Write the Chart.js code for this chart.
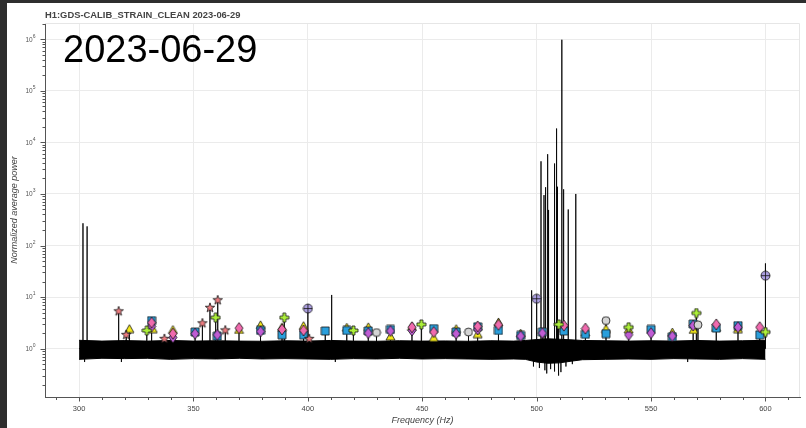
<!DOCTYPE html>
<html>
<head>
<meta charset="utf-8">
<script src="https://cdn.jsdelivr.net/npm/chart.js@4.4.0/dist/chart.umd.min.js"></script>
<style>
html, body { margin: 0; padding: 0; background: #2e2e2e; width: 806px; height: 428px; overflow: hidden; }
#wrap { position: absolute; left: 7px; top: 3px; width: 799px; height: 425px; background: #fff; }
</style>
</head>
<body>
<div id="wrap"><canvas id="chart" width="799" height="425"></canvas></div>
<script>
const FONT = '"Liberation Sans", Arial, Helvetica, sans-serif';

// axis ticks
const xTicks = [300, 350, 400, 450, 500, 550, 600];
const yDecades = [0, 1, 2, 3, 4, 5, 6];

// noise band envelope
const bandFreqs = [300, 310, 320, 330, 340, 350, 360, 370, 380, 390, 400, 410, 420, 430, 440, 450, 460, 470, 480, 490, 495, 500, 505, 510, 515, 520, 530, 540, 550, 560, 570, 580, 590, 600];
const bandUpper = [1.45, 1.4, 1.43, 1.4, 1.44, 1.4, 1.42, 1.4, 1.39, 1.42, 1.4, 1.44, 1.4, 1.39, 1.42, 1.4, 1.41, 1.39, 1.42, 1.4, 1.44, 1.5, 1.55, 1.52, 1.48, 1.44, 1.42, 1.4, 1.42, 1.4, 1.44, 1.4, 1.42, 1.45];
const bandLower = [0.62, 0.65, 0.64, 0.65, 0.62, 0.64, 0.63, 0.65, 0.63, 0.64, 0.63, 0.62, 0.64, 0.63, 0.65, 0.63, 0.64, 0.63, 0.62, 0.63, 0.62, 0.55, 0.52, 0.53, 0.57, 0.61, 0.62, 0.63, 0.62, 0.64, 0.63, 0.62, 0.64, 0.62];

// spectrum peaks
const peakFreqs = [301.7, 303.5, 317.3, 320.6, 322.0, 329.6, 331.7, 337.3, 341.0, 350.7, 353.9, 357.2, 359.7, 360.6, 363.9, 369.9, 379.3, 388.7, 389.7, 398.1, 400.0, 407.6, 410.4, 417.0, 419.9, 426.4, 430.0, 436.1, 445.5, 449.6, 455.0, 464.8, 470.2, 474.2, 483.3, 493.0, 497.8, 500.0, 501.9, 502.5, 503.2, 503.9, 504.8, 505.2, 507.7, 508.7, 509.1, 509.7, 511.0, 511.6, 511.9, 513.8, 517.1, 521.3, 530.3, 540.2, 550.0, 559.3, 568.4, 569.8, 570.5, 578.5, 588.0, 597.5, 600.0];
const peakVals = [270, 235, 5.3, 1.85, 2.45, 2.25, 3.5, 1.55, 2.35, 2.1, 3.1, 6.2, 4.0, 8.7, 2.26, 2.5, 2.9, 2.65, 4.0, 2.8, 6.0, 2.2, 11, 2.6, 2.25, 2.65, 2.05, 2.35, 2.7, 2.95, 2.45, 2.45, 2.1, 2.7, 3.3, 2.0, 13.5, 9.3, 4300, 2.1, 950, 1350, 5900, 490, 3900, 18600, 1380, 2.95, 980000, 1230, 2.8, 500, 1000, 2.45, 3.5, 2.6, 2.35, 2.1, 3.0, 4.9, 2.9, 2.95, 2.8, 2.6, 45];

// downward dips of the spectrum
const dipFreqs = [302.4, 318.5, 412.0, 498.6, 501.2, 503.6, 504.4, 506.1, 507.9, 509.4, 510.6, 512.8, 515.6, 566.0];
const dipVals = [0.55, 0.55, 0.55, 0.45, 0.42, 0.38, 0.33, 0.4, 0.36, 0.3, 0.35, 0.45, 0.5, 0.55];

// line markers, one pair of arrays per marker type
const starFreqs = [317.3, 320.6, 337.3, 353.9, 357.2, 360.6, 363.9, 400.6];
const starVals = [5.3, 1.85, 1.55, 3.1, 6.2, 8.7, 2.26, 1.55];

const triFreqs = [322.0, 332.2, 341.0, 369.9, 379.3, 388.7, 398.1, 417.0, 426.4, 436.1, 445.5, 455.0, 464.8, 474.2, 483.3, 493.0, 511.9, 521.3, 530.3, 540.2, 559.3, 568.6, 578.5, 588.0];
const triVals = [2.45, 2.45, 2.35, 2.35, 2.9, 2.65, 2.8, 2.6, 2.65, 1.75, 2.7, 1.65, 2.45, 1.95, 3.3, 2.0, 2.55, 2.1, 2.45, 2.4, 2.1, 2.35, 2.6, 2.45];

const sqFreqs = [331.7, 350.7, 360.4, 379.3, 388.7, 398.1, 407.6, 417.0, 426.4, 436.1, 455.0, 464.8, 474.2, 483.3, 493.0, 502.5, 511.9, 521.3, 530.3, 550.0, 559.3, 568.4, 578.5, 588.0, 597.5];
const sqVals = [3.5, 2.1, 1.75, 2.26, 1.85, 1.85, 2.2, 2.25, 2.2, 2.35, 2.45, 2.1, 2.65, 2.25, 1.8, 2.1, 2.2, 1.9, 1.95, 2.35, 1.7, 3.0, 2.5, 2.8, 1.85];

const pinkFreqs = [331.7, 341.0, 369.9, 388.7, 398.1, 445.5, 455.0, 474.2, 483.3, 511.9, 521.3, 578.5, 597.5];
const pinkVals = [3.2, 1.95, 2.5, 2.35, 2.25, 2.6, 2.1, 2.7, 2.9, 2.8, 2.45, 2.95, 2.6];

const purpFreqs = [331.7, 341.0, 350.7, 360.4, 379.3, 426.4, 436.1, 445.5, 464.8, 474.2, 493.0, 502.5, 540.2, 550.0, 559.3, 568.4, 588.0];
const purpVals = [2.7, 1.65, 1.95, 1.85, 2.15, 2.0, 2.2, 2.25, 1.95, 2.35, 1.75, 2.0, 1.85, 2.0, 1.75, 2.8, 2.6];

const plusFreqs = [329.6, 359.7, 389.7, 419.9, 449.6, 509.7, 540.2, 569.8, 600.0];
const plusVals = [2.25, 4.0, 4.0, 2.25, 2.95, 2.95, 2.6, 4.9, 2.1];

const circFreqs = [430.0, 470.2, 530.3, 570.5];
const circVals = [2.05, 2.1, 3.5, 2.9];

const cplusFreqs = [400.0, 500.0, 600.0];
const cplusVals = [6.0, 9.3, 26];

// draws a small marker glyph on its own canvas (used as pointStyle)
function makeMarker(shape, fill, w, h) {
    var c = document.createElement('canvas');
    c.width = w + 2;
    c.height = h + 2;
    var g = c.getContext('2d');
    var cx = c.width / 2, cy = c.height / 2;
    g.fillStyle = fill;
    g.strokeStyle = '#111';
    g.lineWidth = 0.8;
    g.beginPath();
    switch (shape) {
        case 'square':
            g.rect(cx - w / 2, cy - h / 2, w, h);
            break;
        case 'triangle':
            g.moveTo(cx, cy - h / 2);
            g.lineTo(cx + w / 2, cy + h / 2);
            g.lineTo(cx - w / 2, cy + h / 2);
            g.closePath();
            break;
        case 'diamond':
            g.moveTo(cx, cy - h / 2);
            g.lineTo(cx + w / 2, cy);
            g.lineTo(cx, cy + h / 2);
            g.lineTo(cx - w / 2, cy);
            g.closePath();
            break;
        case 'circle':
        case 'cplus':
            g.arc(cx, cy, w / 2, 0, Math.PI * 2);
            break;
        case 'star':
            for (var i = 0; i < 10; i++) {
                var r = i % 2 === 0 ? w / 2 : w / 5;
                var ang = -Math.PI / 2 + i * Math.PI / 5;
                var px = cx + r * Math.cos(ang), py = cy + r * Math.sin(ang);
                if (i === 0) g.moveTo(px, py); else g.lineTo(px, py);
            }
            g.closePath();
            break;
        case 'plus':
            var a = w / 2, t = w / 6;
            g.moveTo(cx - t, cy - a); g.lineTo(cx + t, cy - a); g.lineTo(cx + t, cy - t);
            g.lineTo(cx + a, cy - t); g.lineTo(cx + a, cy + t); g.lineTo(cx + t, cy + t);
            g.lineTo(cx + t, cy + a); g.lineTo(cx - t, cy + a); g.lineTo(cx - t, cy + t);
            g.lineTo(cx - a, cy + t); g.lineTo(cx - a, cy - t); g.lineTo(cx - t, cy - t);
            g.closePath();
            break;
    }
    g.fill();
    g.stroke();
    if (shape === 'cplus') {
        g.beginPath();
        g.moveTo(cx - w / 2, cy); g.lineTo(cx + w / 2, cy);
        g.moveTo(cx, cy - w / 2); g.lineTo(cx, cy + w / 2);
        g.stroke();
    }
    return c;
}

function toPoints(xs, ys) {
    return xs.map((x, i) => ({x: x, y: ys[i]}));
}

// spectrum as vertical stems (peaks and dips) around the base level
function spectrumPoints() {
    var stems = toPoints(peakFreqs, peakVals).concat(toPoints(dipFreqs, dipVals));
    stems.sort((p, q) => p.x - q.x);
    var pts = [{x: 300, y: 1}];
    stems.forEach(s => {
        pts.push({x: s.x, y: 1});
        pts.push({x: s.x, y: s.y});
        pts.push({x: s.x, y: 1});
    });
    pts.push({x: 600, y: 1});
    return pts;
}

function markerSet(label, xs, ys, style) {
    return {
        label: label,
        data: toPoints(xs, ys),
        pointStyle: style,
        pointRadius: 5,
        showLine: false
    };
}

// extra drawing: minor ticks, superscript labels, titles
const extras = {
    id: 'extras',
    afterDraw(chart) {
        var ctx = chart.ctx;
        var a = chart.chartArea;
        var xs = chart.scales.x, ys = chart.scales.y;
        ctx.save();

        ctx.strokeStyle = '#e6e6e6';
        ctx.lineWidth = 1;
        ctx.beginPath();
        ctx.moveTo(a.left, a.top + 0.5);
        ctx.lineTo(a.right - 0.5, a.top + 0.5);
        ctx.lineTo(a.right - 0.5, a.bottom);
        ctx.stroke();

        ctx.strokeStyle = '#555';
        ctx.beginPath();
        for (var f = 290; f <= 610; f += 10) {
            var px = Math.round(xs.getPixelForValue(f)) + 0.5;
            var len = f % 50 === 0 ? 4.5 : 3;
            ctx.moveTo(px, a.bottom);
            ctx.lineTo(px, a.bottom + len);
        }
        for (var d = -1; d <= 6; d++) {
            for (var k = 1; k <= 9; k++) {
                var v = k * Math.pow(10, d);
                if (v < ys.min || v > ys.max) continue;
                var py = Math.round(ys.getPixelForValue(v)) + 0.5;
                var l = k === 1 ? 4.5 : 2.5;
                ctx.moveTo(a.left - l, py);
                ctx.lineTo(a.left, py);
            }
        }
        ctx.stroke();

        ctx.fillStyle = '#555';
        ctx.textBaseline = 'middle';
        yDecades.forEach(dd => {
            var y = ys.getPixelForValue(Math.pow(10, dd));
            var right = 28.5;
            ctx.font = '5px ' + FONT;
            var ew = ctx.measureText(String(dd)).width;
            ctx.textAlign = 'left';
            ctx.fillText(String(dd), right - ew, y - 3);
            ctx.font = '6.5px ' + FONT;
            ctx.textAlign = 'right';
            ctx.fillText('10', right - ew, y + 0.5);
        });

        ctx.fillStyle = '#444';
        ctx.textAlign = 'left';
        ctx.font = 'bold 9.4px ' + FONT;
        ctx.fillText('H1:GDS-CALIB_STRAIN_CLEAN 2023-06-29', 38, 12);

        ctx.fillStyle = '#000';
        ctx.textBaseline = 'alphabetic';
        ctx.font = '38px ' + FONT;
        ctx.fillText('2023-06-29', 56, 59);
        ctx.restore();
    }
};

Chart.defaults.font.family = FONT;

var chart;

function createChart() {
    var ctx = document.getElementById('chart').getContext('2d');
    chart = new Chart(ctx, {
        type: 'scatter',
        data: {
            datasets: [
                markerSet('cplus', cplusFreqs, cplusVals, makeMarker('cplus', '#ab9ee0', 9, 9)),
                markerSet('plus', plusFreqs, plusVals, makeMarker('plus', '#adf03a', 9, 9)),
                markerSet('circle', circFreqs, circVals, makeMarker('circle', '#d4d4d4', 8, 8)),
                markerSet('star', starFreqs, starVals, makeMarker('star', '#f07c80', 10, 10)),
                markerSet('pink', pinkFreqs, pinkVals, makeMarker('diamond', '#f06aae', 8, 11)),
                markerSet('purple', purpFreqs, purpVals, makeMarker('diamond', '#bf5cd4', 8, 11)),
                markerSet('square', sqFreqs, sqVals, makeMarker('square', '#2a9fdc', 8, 8)),
                markerSet('triangle', triFreqs, triVals, makeMarker('triangle', '#f4e81a', 9, 8)),
                {
                    label: 'spectrum',
                    data: spectrumPoints(),
                    showLine: true,
                    borderColor: 'rgba(0,0,0,0.85)',
                    borderWidth: 1,
                    pointRadius: 0,
                    tension: 0
                },
                {
                    label: 'bandUpper',
                    data: toPoints(bandFreqs, bandUpper),
                    showLine: true,
                    borderColor: '#000',
                    borderWidth: 1,
                    backgroundColor: '#000',
                    fill: '+1',
                    pointRadius: 0
                },
                {
                    label: 'bandLower',
                    data: toPoints(bandFreqs, bandLower),
                    showLine: true,
                    borderColor: '#000',
                    borderWidth: 1,
                    pointRadius: 0
                }
            ]
        },
        options: {
            responsive: false,
            animation: false,
            events: [],
            layout: { padding: { top: 20, right: 1, left: 0, bottom: 0 } },
            scales: {
                x: {
                    type: 'linear',
                    min: 285.1,
                    max: 615.1,
                    afterBuildTicks: s => { s.ticks = xTicks.map(v => ({value: v})); },
                    afterFit: s => { s.height = 31; },
                    grid: { color: '#ebebeb', drawTicks: false },
                    border: { color: '#555' },
                    ticks: { color: '#444', font: { size: 7.5 }, padding: 7.5, maxRotation: 0, autoSkip: false },
                    title: {
                        display: true,
                        text: 'Frequency (Hz)',
                        color: '#444',
                        font: { size: 9, style: 'italic' },
                        padding: { top: 0, bottom: 2 }
                    }
                },
                y: {
                    type: 'logarithmic',
                    min: 0.1153,
                    max: 2.07e6,
                    afterBuildTicks: s => { s.ticks = yDecades.map(d => ({value: Math.pow(10, d)})); },
                    afterFit: s => { s.width = 38; },
                    grid: { color: '#ebebeb', drawTicks: false },
                    border: { color: '#555' },
                    ticks: { display: false },
                    title: {
                        display: true,
                        text: 'Normalized average power',
                        color: '#444',
                        font: { size: 9, style: 'italic' },
                        padding: { top: 2, bottom: 0 }
                    }
                }
            },
            plugins: {
                legend: { display: false },
                tooltip: { enabled: false }
            }
        },
        plugins: [extras]
    });
}

createChart();
</script>
</body>
</html>
